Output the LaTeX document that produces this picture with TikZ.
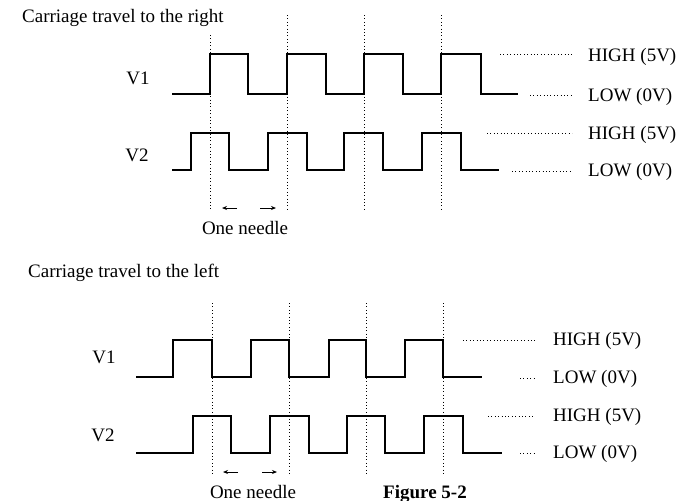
\documentclass[tikz,border=0pt]{standalone}
\usepackage{fontspec}
\setmainfont{Liberation Serif}
\usetikzlibrary{arrows.meta}
\begin{document}
\begin{tikzpicture}[x=1pt,y=-1pt,
  wave/.style={line width=1.1pt,line join=miter},
  grid/.style={line width=0.6pt,dash pattern=on 0.8pt off 2.6pt},
  leader/.style={line width=0.6pt,dash pattern=on 0.8pt off 2.6pt},
  lab/.style={font=\fontsize{19}{21}\selectfont,inner sep=0pt},
  lvl/.style={lab,anchor=west},
  arr/.style={line width=1pt,-{Stealth[length=5pt,width=4pt]}}]
\useasboundingbox (0,0) rectangle (681,501);
% ---------- top: carriage travel to the right ----------
\node[lab,anchor=west] (t1) at (22,18) {Carriage travel to the right};
\node[lab] (v1a) at (138,78) {V1};
\node[lab] (v2a) at (137,155) {V2};
\draw[grid] (210,35) -- (210,210);
\foreach \x in {287,364,441} \draw[grid] (\x,15) -- (\x,210);
\draw[wave] (172,94) -- (210,94) -- (210,54) -- (248,54) -- (248,94) -- (287,94) -- (287,54) -- (326,54) -- (326,94)
  -- (364,94) -- (364,54) -- (403,54) -- (403,94) -- (441,94) -- (441,54) -- (481,54) -- (481,94) -- (518,94);
\draw[wave] (172,170) -- (191,170) -- (191,133) -- (229,133) -- (229,170) -- (268,170) -- (268,133) -- (307,133) -- (307,170)
  -- (344,170) -- (344,133) -- (383,133) -- (383,170) -- (422,170) -- (422,133) -- (461,133) -- (461,170) -- (499,170);
\node[lvl] (h1a) at (588,57) {HIGH (5V)};
\node[lvl] (l1a) at (588,97) {LOW (0V)};
\node[lvl] (h2a) at (588,135) {HIGH (5V)};
\node[lvl] (l2a) at (588,172) {LOW (0V)};
\draw[leader] (500,54) -- (572,54);
\draw[leader] (530,95) -- (572,95);
\draw[leader] (487,133) -- (572,133);
\draw[leader] (512,171) -- (572,171);
\draw[arr] (237,208) -- (222,208);
\draw[arr] (260,208) -- (276,208);
\node[lab] (na) at (245,228) {One needle};
% ---------- bottom: carriage travel to the left ----------
\node[lab,anchor=west] (t2) at (28,273) {Carriage travel to the left};
\node[lab] (v1b) at (104,357) {V1};
\node[lab] (v2b) at (103,435) {V2};
\foreach \x in {212,289,366,443} \draw[grid] (\x,303) -- (\x,476);
\draw[wave] (136,377) -- (173,377) -- (173,340) -- (212,340) -- (212,377) -- (251,377) -- (251,340) -- (289,340) -- (289,377)
  -- (329,377) -- (329,340) -- (366,340) -- (366,377) -- (405,377) -- (405,340) -- (443,340) -- (443,377) -- (482,377);
\draw[wave] (136,453) -- (193,453) -- (193,416) -- (231,416) -- (231,453) -- (270,453) -- (270,416) -- (309,416) -- (309,453)
  -- (347,453) -- (347,416) -- (385,416) -- (385,453) -- (424,453) -- (424,416) -- (463,416) -- (463,453) -- (502,453);
\node[lvl] (h1b) at (553,341) {HIGH (5V)};
\node[lvl] (l1b) at (553,379) {LOW (0V)};
\node[lvl] (h2b) at (553,417) {HIGH (5V)};
\node[lvl] (l2b) at (553,454) {LOW (0V)};
\draw[leader] (463,340) -- (535,340);
\draw[leader] (520,378) -- (535,378);
\draw[leader] (488,416) -- (535,416);
\draw[leader] (520,453) -- (535,453);
\draw[arr] (238,472) -- (223,472);
\draw[arr] (262,472) -- (277,472);
\node[lab,anchor=base] (nb) at (253,498) {One needle};
\node[inner sep=0pt,anchor=base,font=\fontsize{19}{21}\selectfont\bfseries] (fig) at (425,498) {Figure 5-2};
\end{tikzpicture}
\end{document}
